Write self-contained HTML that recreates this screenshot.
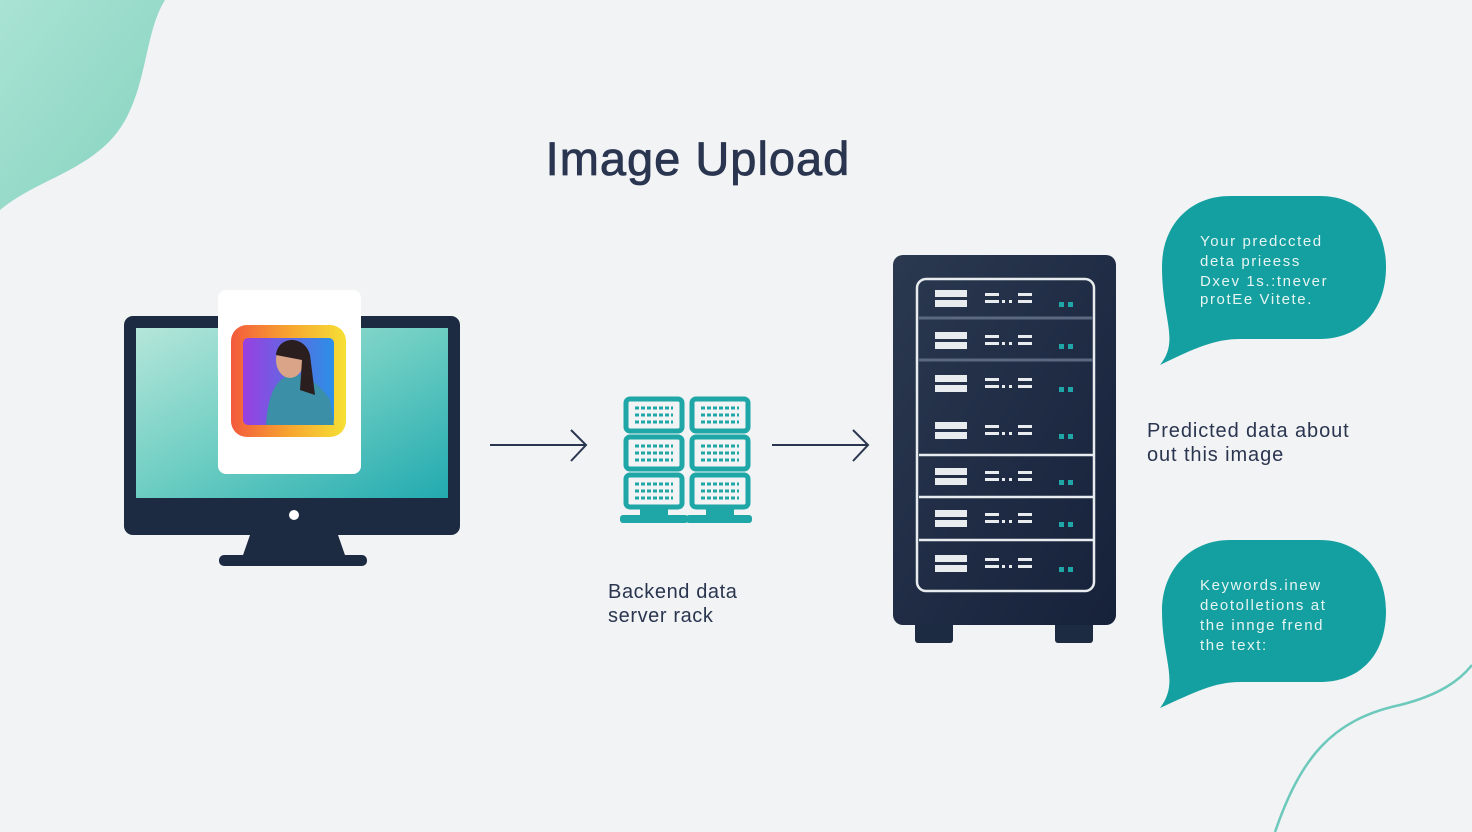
<!DOCTYPE html>
<html><head><meta charset="utf-8"><style>
html,body{margin:0;padding:0;background:#f2f3f4;}
svg{display:block}
text{font-family:"Liberation Sans","DejaVu Sans",sans-serif}
</style></head><body>
<svg width="1472" height="832" viewBox="0 0 1472 832" xmlns="http://www.w3.org/2000/svg">
<defs>
<linearGradient id="blob" x1="0" y1="0" x2="1" y2="1"><stop offset="0" stop-color="#a9e3d3"/><stop offset="1" stop-color="#86d2c0"/></linearGradient>
<linearGradient id="scr" x1="0" y1="0" x2="1" y2="1"><stop offset="0" stop-color="#b5e6da"/><stop offset="0.5" stop-color="#6ccdc2"/><stop offset="1" stop-color="#22aab0"/></linearGradient>
<linearGradient id="frame" x1="0" y1="0" x2="1" y2="0"><stop offset="0" stop-color="#f35a3c"/><stop offset="0.5" stop-color="#f7a430"/><stop offset="1" stop-color="#f6e035"/></linearGradient>
<linearGradient id="photo" x1="0" y1="0" x2="1" y2="0"><stop offset="0" stop-color="#9a3fe0"/><stop offset="1" stop-color="#2a90e6"/></linearGradient>
<linearGradient id="rack" x1="0" y1="0" x2="1" y2="1"><stop offset="0" stop-color="#2a3850"/><stop offset="1" stop-color="#16213a"/></linearGradient>
</defs>
<path d="M0 0 H165 C140 40 150 110 100 150 C70 175 30 185 0 210 Z" fill="url(#blob)"/>
<path d="M1275 832 C1300 760 1330 720 1400 705 C1440 695 1460 680 1472 665" fill="none" stroke="#6cc9bc" stroke-width="2.5"/>
<text x="698" y="175" text-anchor="middle" font-size="47" fill="#2a3550" stroke="#2a3550" stroke-width="0.8" letter-spacing="1">Image Upload</text>
<!-- monitor -->
<rect x="124" y="316" width="336" height="219" rx="9" fill="#1c2a42"/>
<rect x="136" y="328" width="312" height="170" fill="url(#scr)"/>
<circle cx="294" cy="515" r="5" fill="#fff"/>
<path d="M250 535 H338 L346 558 H242 Z" fill="#1c2a42"/>
<rect x="219" y="555" width="148" height="11" rx="5" fill="#1c2a42"/>
<rect x="218" y="290" width="143" height="184" rx="8" fill="#fff"/>
<rect x="231" y="325" width="115" height="112" rx="16" fill="url(#frame)"/>
<rect x="243" y="338" width="91" height="87" rx="5" fill="url(#photo)"/>
<path d="M266 425 C268 395 275 380 290 375 C305 372 320 385 330 400 L334 425 Z" fill="#3b8fa6"/>
<ellipse cx="290" cy="360" rx="14" ry="18" fill="#d9a487"/>
<path d="M276 355 C278 335 305 335 310 355 L315 395 L300 390 L302 360 Z" fill="#2a1e1e"/>
<!-- arrows -->
<g stroke="#2a3550" stroke-width="2" fill="none">
<path d="M490 445 H586 M571 430 L586 445 L571 461"/>
<path d="M772 445 H868 M853 430 L868 445 L853 461"/>
</g>
<!-- small server icon -->
<g fill="none" stroke="#1fa6a6" stroke-width="5">
<rect x="626" y="399" width="56" height="32" rx="4"/><rect x="626" y="437" width="56" height="32" rx="4"/><rect x="626" y="475" width="56" height="32" rx="4"/>
<rect x="692" y="399" width="56" height="32" rx="4"/><rect x="692" y="437" width="56" height="32" rx="4"/><rect x="692" y="475" width="56" height="32" rx="4"/>
</g>
<g fill="#1fa6a6">
<rect x="640" y="507" width="28" height="9"/><rect x="706" y="507" width="28" height="9"/>
<rect x="620" y="515" width="68" height="8" rx="3"/><rect x="686" y="515" width="66" height="8" rx="3"/>
</g>
<g stroke="#1fa6a6" stroke-width="3" stroke-dasharray="4 2">
<path d="M635 408h38M635 415h38M635 422h38M701 408h38M701 415h38M701 422h38"/>
<path d="M635 446h38M635 453h38M635 460h38M701 446h38M701 453h38M701 460h38"/>
<path d="M635 484h38M635 491h38M635 498h38M701 484h38M701 491h38M701 498h38"/>
</g>
<text x="608" y="598" font-size="20" fill="#2a3550" letter-spacing="0.6">Backend data</text>
<text x="608" y="622" font-size="20" fill="#2a3550" letter-spacing="0.6">server rack</text>
<!-- rack -->
<rect x="915" y="620" width="38" height="23" rx="3" fill="#1c2a42"/>
<rect x="1055" y="620" width="38" height="23" rx="3" fill="#1c2a42"/>
<rect x="893" y="255" width="223" height="370" rx="10" fill="url(#rack)"/>
<rect x="917" y="279" width="177" height="312" rx="9" fill="none" stroke="#e8ecef" stroke-width="2.5"/>
<g stroke="#5a6880" stroke-width="3"><path d="M919 318H1093M919 360H1093"/></g>
<g stroke="#e8ecef" stroke-width="2.5"><path d="M919 455H1093M919 497H1093M919 540H1093"/></g>
<g fill="#e8ecef">
<g transform="translate(0,298)"><rect x="935" y="-8" width="32" height="7"/><rect x="935" y="2" width="32" height="7"/><rect x="985" y="-5" width="14" height="3"/><rect x="985" y="2" width="14" height="3"/><rect x="1002" y="2" width="3" height="3"/><rect x="1009" y="2" width="3" height="3"/><rect x="1018" y="-5" width="14" height="3"/><rect x="1018" y="2" width="14" height="3"/><rect x="1059" y="4" width="5" height="5" fill="#1fa6a6"/><rect x="1068" y="4" width="5" height="5" fill="#1fa6a6"/></g>
<g transform="translate(0,340)"><rect x="935" y="-8" width="32" height="7"/><rect x="935" y="2" width="32" height="7"/><rect x="985" y="-5" width="14" height="3"/><rect x="985" y="2" width="14" height="3"/><rect x="1002" y="2" width="3" height="3"/><rect x="1009" y="2" width="3" height="3"/><rect x="1018" y="-5" width="14" height="3"/><rect x="1018" y="2" width="14" height="3"/><rect x="1059" y="4" width="5" height="5" fill="#1fa6a6"/><rect x="1068" y="4" width="5" height="5" fill="#1fa6a6"/></g>
<g transform="translate(0,383)"><rect x="935" y="-8" width="32" height="7"/><rect x="935" y="2" width="32" height="7"/><rect x="985" y="-5" width="14" height="3"/><rect x="985" y="2" width="14" height="3"/><rect x="1002" y="2" width="3" height="3"/><rect x="1009" y="2" width="3" height="3"/><rect x="1018" y="-5" width="14" height="3"/><rect x="1018" y="2" width="14" height="3"/><rect x="1059" y="4" width="5" height="5" fill="#1fa6a6"/><rect x="1068" y="4" width="5" height="5" fill="#1fa6a6"/></g>
<g transform="translate(0,430)"><rect x="935" y="-8" width="32" height="7"/><rect x="935" y="2" width="32" height="7"/><rect x="985" y="-5" width="14" height="3"/><rect x="985" y="2" width="14" height="3"/><rect x="1002" y="2" width="3" height="3"/><rect x="1009" y="2" width="3" height="3"/><rect x="1018" y="-5" width="14" height="3"/><rect x="1018" y="2" width="14" height="3"/><rect x="1059" y="4" width="5" height="5" fill="#1fa6a6"/><rect x="1068" y="4" width="5" height="5" fill="#1fa6a6"/></g>
<g transform="translate(0,476)"><rect x="935" y="-8" width="32" height="7"/><rect x="935" y="2" width="32" height="7"/><rect x="985" y="-5" width="14" height="3"/><rect x="985" y="2" width="14" height="3"/><rect x="1002" y="2" width="3" height="3"/><rect x="1009" y="2" width="3" height="3"/><rect x="1018" y="-5" width="14" height="3"/><rect x="1018" y="2" width="14" height="3"/><rect x="1059" y="4" width="5" height="5" fill="#1fa6a6"/><rect x="1068" y="4" width="5" height="5" fill="#1fa6a6"/></g>
<g transform="translate(0,518)"><rect x="935" y="-8" width="32" height="7"/><rect x="935" y="2" width="32" height="7"/><rect x="985" y="-5" width="14" height="3"/><rect x="985" y="2" width="14" height="3"/><rect x="1002" y="2" width="3" height="3"/><rect x="1009" y="2" width="3" height="3"/><rect x="1018" y="-5" width="14" height="3"/><rect x="1018" y="2" width="14" height="3"/><rect x="1059" y="4" width="5" height="5" fill="#1fa6a6"/><rect x="1068" y="4" width="5" height="5" fill="#1fa6a6"/></g>
<g transform="translate(0,563)"><rect x="935" y="-8" width="32" height="7"/><rect x="935" y="2" width="32" height="7"/><rect x="985" y="-5" width="14" height="3"/><rect x="985" y="2" width="14" height="3"/><rect x="1002" y="2" width="3" height="3"/><rect x="1009" y="2" width="3" height="3"/><rect x="1018" y="-5" width="14" height="3"/><rect x="1018" y="2" width="14" height="3"/><rect x="1059" y="4" width="5" height="5" fill="#1fa6a6"/><rect x="1068" y="4" width="5" height="5" fill="#1fa6a6"/></g>
</g>
<!-- bubbles -->
<path d="M1230 196 H1320 C1360 196 1386 225 1386 267 C1386 310 1360 339 1320 339 H1240 C1215 339 1195 348 1160 365 C1180 340 1162 320 1162 267 C1162 225 1190 196 1230 196 Z" fill="#14a0a0"/>
<path d="M1230 540 H1320 C1360 540 1386 570 1386 611 C1386 655 1360 682 1320 682 H1240 C1215 682 1195 692 1160 708 C1180 682 1162 660 1162 611 C1162 570 1190 540 1230 540 Z" fill="#14a0a0"/>
<g font-size="15" fill="#e6f4f2" letter-spacing="1.6">
<text x="1200" y="246">Your predccted</text>
<text x="1200" y="266">deta prieess</text>
<text x="1200" y="286">Dxev 1s.:tnever</text>
<text x="1200" y="304">protEe Vitete.</text>
<text x="1200" y="590">Keywords.inew</text>
<text x="1200" y="610">deotolletions at</text>
<text x="1200" y="630">the innge frend</text>
<text x="1200" y="650">the text:</text>
</g>
<text x="1147" y="437" font-size="20" fill="#2a3550" letter-spacing="0.9">Predicted data about</text>
<text x="1147" y="461" font-size="20" fill="#2a3550" letter-spacing="0.9">out this image</text>
</svg>
</body></html>
